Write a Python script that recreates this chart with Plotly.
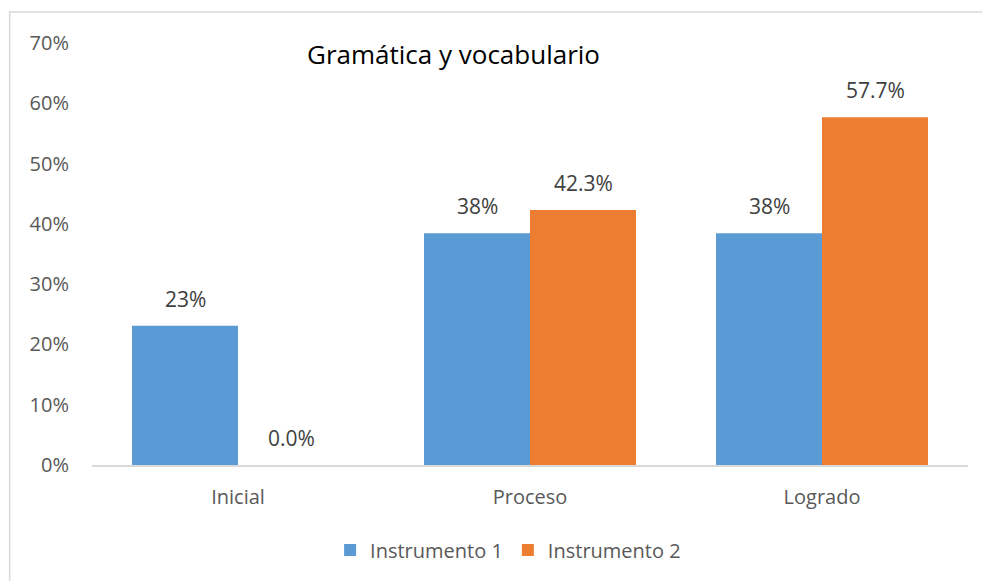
import plotly.graph_objects as go

categories = ["Inicial", "Proceso", "Logrado"]
instrumento_1 = [0.2308, 0.3846, 0.3846]
instrumento_2 = [0.0, 0.423, 0.577]
labels_1 = ["23%", "38%", "38%"]
labels_2 = ["0.0%", "42.3%", "57.7%"]
tick_vals = [0, 0.1, 0.2, 0.3, 0.4, 0.5, 0.6, 0.7]

blue = "#5B9BD5"
orange = "#ED7D31"
font_name = "Open Sans"

fig = go.Figure()
fig.add_trace(go.Bar(x=categories, y=instrumento_1, name="Instrumento 1",
                     marker_color=blue, marker_line_width=0))
fig.add_trace(go.Bar(x=categories, y=instrumento_2, name="Instrumento 2",
                     marker_color=orange, marker_line_width=0))

# data labels above each bar (half a bar width left / right of the category)
for vals, labs, shift in [(instrumento_1, labels_1, -53), (instrumento_2, labels_2, 53)]:
    for cat, v, t in zip(categories, vals, labs):
        fig.add_annotation(x=cat, y=v, text=t, xref="x", yref="y",
                           xshift=shift, yshift=11, yanchor="bottom",
                           showarrow=False, font=dict(size=21, color="#404040"))

fig.update_layout(
    width=982, height=581,
    margin=dict(l=92, r=14, t=43, b=116),
    barmode="group", bargap=0.274, bargroupgap=0,
    paper_bgcolor="white", plot_bgcolor="white",
    font=dict(family=font_name, size=20, color="#595959"),
    showlegend=True,
    legend=dict(orientation="h", x=0.475, xanchor="center", y=-0.155, yanchor="top",
                font=dict(size=20, color="#595959"), itemwidth=30,
                traceorder="normal"),
)
fig.update_yaxes(range=[0, 0.7], tickvals=tick_vals, tickformat=".0%",
                 showgrid=False, zeroline=False, showline=False, ticks="",
                 ticklabelstandoff=22)
fig.update_xaxes(showline=True, linecolor="#D9D9D9", linewidth=2, ticks="",
                 ticklabelstandoff=13)

fig.add_annotation(text="Gramática y vocabulario", xref="paper", yref="paper",
                   x=0.413, y=0.975, xanchor="center", yanchor="middle",
                   showarrow=False, font=dict(size=26, color="black"))

# chart border
fig.add_shape(type="rect", xref="paper", yref="paper",
              x0=-0.094, x1=1.1, y0=-0.35, y1=1.0735,
              line=dict(color="#D9D9D9", width=1.5), layer="below")

fig.write_html("out.html", config={"displayModeBar": False},
               post_script="document.body.style.margin='0';")
